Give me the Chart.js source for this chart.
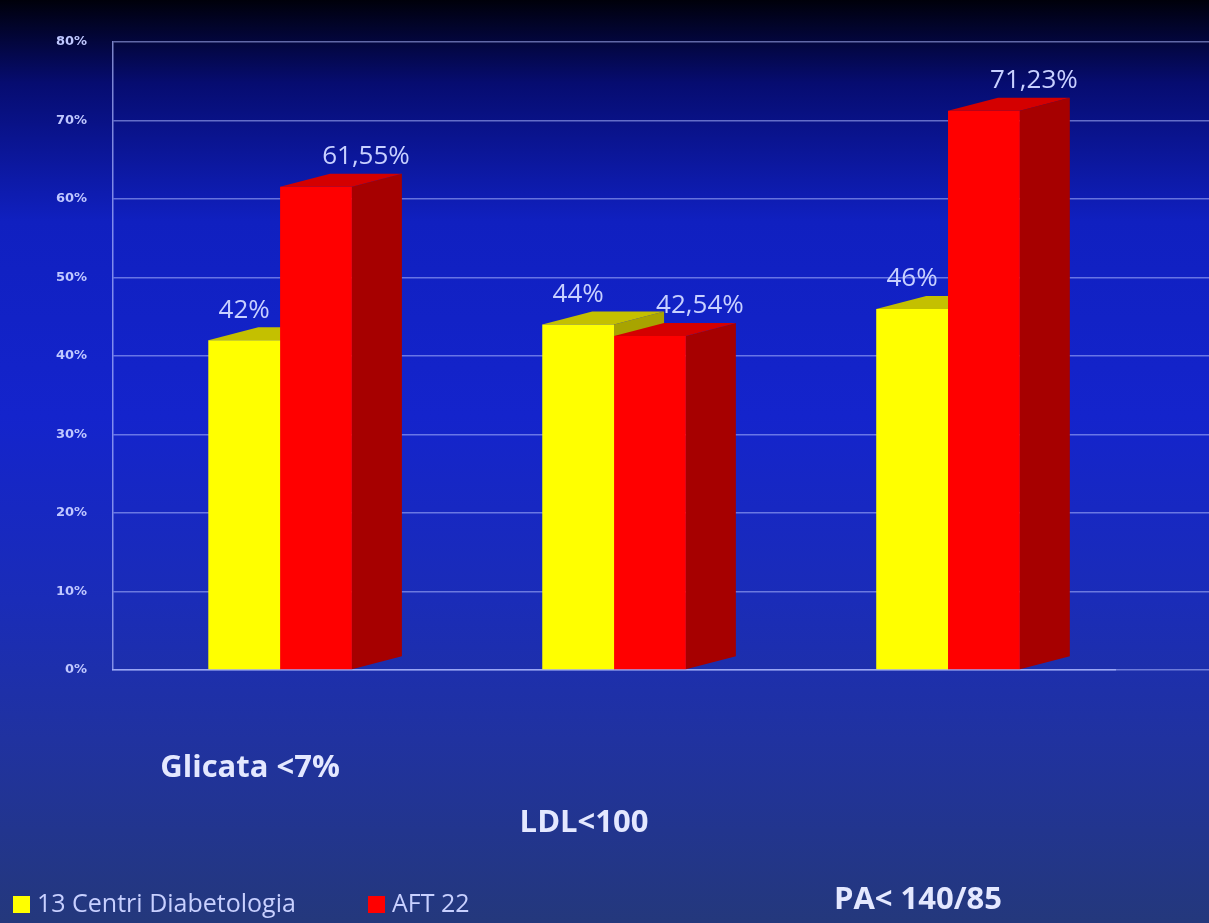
<!DOCTYPE html>
<html>
<head>
<meta charset="utf-8">
<script src="https://cdn.jsdelivr.net/npm/chart.js@4.4.1/dist/chart.umd.min.js"></script>
<style>
    html, body { margin: 0; padding: 0; }
    body {
        width: 1209px;
        height: 923px;
        overflow: hidden;
        background: linear-gradient(to bottom, #00000a 0%, #060c70 9%, #1020c0 24%, #1424cc 45%, #1a2cb8 65%, #2032a0 80%, #24387c 100%);
    }
</style>
</head>
<body>
<canvas id="chart" width="1209" height="923"></canvas>
<script>
const categories = ["Glicata <7%", "LDL<100", "PA< 140/85"];
const seriesNames = ["13 Centri Diabetologia", "AFT 22"];
const centriValues = [42, 44, 46];
const aftValues = [61.55, 42.54, 71.23];
const centriLabels = ["42%", "44%", "46%"];
const aftLabels = ["61,55%", "42,54%", "71,23%"];
const yTicks = [0, 10, 20, 30, 40, 50, 60, 70, 80];

// colours for front / top / side of each series
const faces = [
    { front: "#ffff00", top: "#c4c000", side: "#a8a400" },
    { front: "#ff0000", top: "#d40000", side: "#a60000" },
];
const depthX = 50;
const depthY = 13;
const labelShift = [0, 50];
const textColor = "#c8d0ff";
const gridColor = "rgba(175,185,255,0.55)";
const catLabelDrop = [98, 153, 230];

const bar3d = {
    id: "bar3d",
    beforeDatasetsDraw(chart) {
        const ctx = chart.ctx;
        const area = chart.chartArea;
        ctx.save();
        // carry the grid lines on to the right edge, as in the original
        ctx.strokeStyle = gridColor;
        ctx.lineWidth = 1.5;
        yTicks.forEach((v) => {
            const py = Math.round(chart.scales.y.getPixelForValue(v) - 0.75) + 0.75;
            ctx.beginPath();
            ctx.moveTo(area.right, py);
            ctx.lineTo(chart.width, py);
            ctx.stroke();
        });
        categories.forEach((c, i) => {
            chart.data.datasets.forEach((ds, d) => {
                const bar = chart.getDatasetMeta(d).data[i];
                const { x, y, base, width } = bar.getProps(["x", "y", "base", "width"], true);
                const l = x - width / 2, r = x + width / 2;
                ctx.fillStyle = faces[d].side;
                ctx.beginPath();
                ctx.moveTo(r, y);
                ctx.lineTo(r + depthX, y - depthY);
                ctx.lineTo(r + depthX, base - depthY);
                ctx.lineTo(r, base);
                ctx.closePath();
                ctx.fill();
                ctx.fillStyle = faces[d].top;
                ctx.beginPath();
                ctx.moveTo(l, y);
                ctx.lineTo(r, y);
                ctx.lineTo(r + depthX, y - depthY);
                ctx.lineTo(l + depthX, y - depthY);
                ctx.closePath();
                ctx.fill();
            });
        });
        ctx.restore();
    },
    afterDatasetsDraw(chart) {
        const ctx = chart.ctx;
        const texts = [centriLabels, aftLabels];
        ctx.save();
        ctx.textAlign = "center";
        ctx.textBaseline = "bottom";
        ctx.fillStyle = textColor;
        ctx.font = "26px 'Open Sans'";
        chart.data.datasets.forEach((ds, d) => {
            chart.getDatasetMeta(d).data.forEach((bar, i) => {
                const { x, y } = bar.getProps(["x", "y"], true);
                ctx.fillText(texts[d][i], x + labelShift[d], y - depthY - 4);
            });
        });

        // category names, staggered like the original
        const xs = chart.scales.x;
        ctx.font = "bold 31px 'Open Sans'";
        ctx.fillStyle = "#e4e8ff";
        ctx.textBaseline = "middle";
        categories.forEach((c, i) => {
            ctx.fillText(c, xs.getPixelForValue(i) - 30, chart.chartArea.bottom + catLabelDrop[i]);
        });

        // legend
        ctx.font = "25px 'Open Sans'";
        ctx.textAlign = "left";
        const legendY = 904;
        let lx = 13;
        seriesNames.forEach((name, d) => {
            ctx.fillStyle = faces[d].front;
            ctx.fillRect(lx, legendY - 8, 17, 17);
            ctx.fillStyle = textColor;
            ctx.fillText(name, lx + 24, legendY + 1);
            lx += 355;
        });
        ctx.restore();
    },
};

new Chart(document.getElementById("chart"), {
    type: "bar",
    data: {
        labels: categories,
        datasets: [
            { label: seriesNames[0], data: centriValues, backgroundColor: faces[0].front },
            { label: seriesNames[1], data: aftValues, backgroundColor: faces[1].front },
        ],
    },
    options: {
        responsive: false,
        animation: false,
        layout: { padding: { left: 30, right: 94, top: 42, bottom: 245 } },
        datasets: { bar: { categoryPercentage: 0.43, barPercentage: 1 } },
        plugins: { legend: { display: false }, tooltip: { enabled: false } },
        scales: {
            x: {
                ticks: { display: false },
                grid: { display: false },
                border: { color: "rgba(175,185,255,0.7)", width: 1.5 },
            },
            y: {
                min: 0,
                max: 80,
                afterBuildTicks: (scale) => { scale.ticks = yTicks.map((v) => ({ value: v })); },
                ticks: {
                    callback: (v) => v + "%",
                    color: "#c0c8ff",
                    font: { family: "'DejaVu Sans'", size: 13, weight: "bold" },
                    padding: 26,
                },
                grid: { color: gridColor, lineWidth: 1.5, drawTicks: false },
                border: { color: "rgba(175,185,255,0.7)", width: 1.5 },
            },
        },
    },
    plugins: [bar3d],
});
</script>
</body>
</html>
